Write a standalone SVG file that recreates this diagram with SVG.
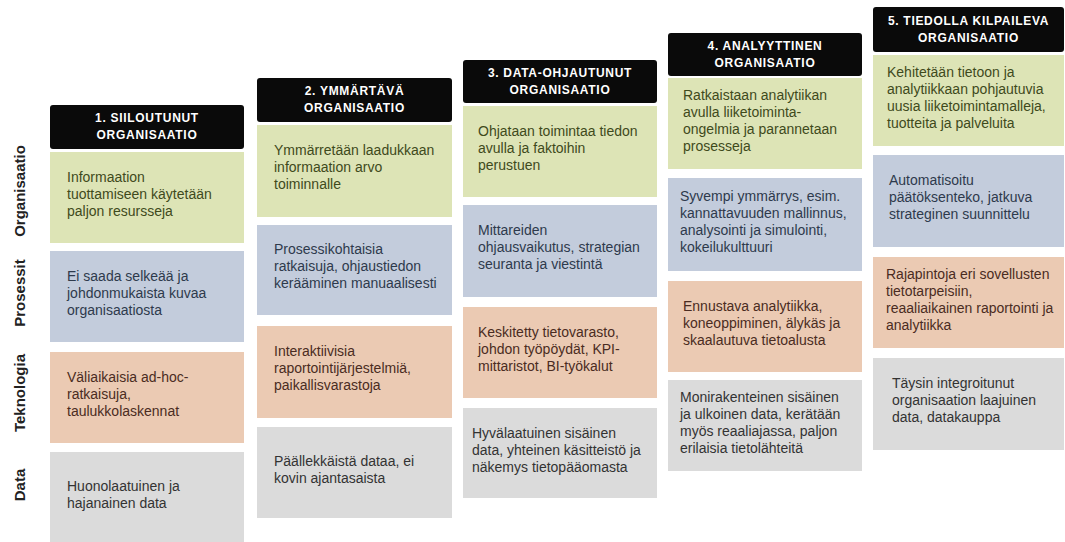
<svg xmlns="http://www.w3.org/2000/svg" width="1065" height="542" viewBox="0 0 1065 542">
<style>
.hd{fill:#0a0a0a}
.ht{fill:#ffffff;font-family:"Liberation Sans",Arial,sans-serif;font-weight:bold;font-size:12px;letter-spacing:0.7px;text-anchor:middle}
.g{fill:#dde4b6}.b{fill:#c3ccdc}.o{fill:#ebcab3}.y{fill:#dbdbdb}
.t{font-family:"Liberation Sans",Arial,sans-serif;font-size:14px}
.tg{fill:#3f4a1c}.tb{fill:#2e3a4c}.to{fill:#4a2c22}.ty{fill:#333333}
.rl{font-family:"Liberation Sans",Arial,sans-serif;font-weight:bold;font-size:15px;fill:#222;text-anchor:middle}
</style>
<rect width="1065" height="542" fill="#ffffff"/>
<g id="row-labels">
<text class="rl" transform="translate(25,191) rotate(-90)">Organisaatio</text>
<text class="rl" transform="translate(25,293) rotate(-90)">Prosessit</text>
<text class="rl" transform="translate(25,393) rotate(-90)">Teknologia</text>
<text class="rl" transform="translate(25,485) rotate(-90)">Data</text>
</g>
<g id="connectors"></g>
<g id="col1">
<rect class="hd" x="50" y="105" width="194" height="44" rx="3"/>
<text class="ht" x="147" y="122">1. SIILOUTUNUT</text><text class="ht" x="147" y="139">ORGANISAATIO</text>
<rect class="g" x="50" y="152" width="194" height="91"/>
<text class="t tg"><tspan x="67" y="182">Informaation</tspan><tspan x="67" y="199">tuottamiseen käytetään</tspan><tspan x="67" y="216">paljon resursseja</tspan></text>
<rect class="b" x="50" y="251" width="194" height="91"/>
<text class="t tb"><tspan x="67" y="281">Ei saada selkeää ja</tspan><tspan x="67" y="298">johdonmukaista kuvaa</tspan><tspan x="67" y="315">organisaatiosta</tspan></text>
<rect class="o" x="50" y="352" width="194" height="91"/>
<text class="t to"><tspan x="67" y="382">Väliaikaisia ad-hoc-</tspan><tspan x="67" y="399">ratkaisuja,</tspan><tspan x="67" y="416">taulukkolaskennat</tspan></text>
<rect class="y" x="50" y="452" width="194" height="90"/>
<text class="t ty"><tspan x="67" y="491">Huonolaatuinen ja</tspan><tspan x="67" y="508">hajanainen data</tspan></text>
</g>
<g id="col2">
<rect class="hd" x="257" y="78" width="195" height="44" rx="3"/>
<text class="ht" x="354.5" y="95">2. YMMÄRTÄVÄ</text><text class="ht" x="354.5" y="112">ORGANISAATIO</text>
<rect class="g" x="257" y="125" width="195" height="92"/>
<text class="t tg"><tspan x="274" y="155">Ymmärretään laadukkaan</tspan><tspan x="274" y="172">informaation arvo</tspan><tspan x="274" y="189">toiminnalle</tspan></text>
<rect class="b" x="257" y="225" width="195" height="90"/>
<text class="t tb"><tspan x="274" y="254">Prosessikohtaisia</tspan><tspan x="274" y="271">ratkaisuja, ohjaustiedon</tspan><tspan x="274" y="288">kerääminen manuaalisesti</tspan></text>
<rect class="o" x="257" y="326" width="195" height="92"/>
<text class="t to"><tspan x="274" y="356">Interaktiivisia</tspan><tspan x="274" y="373">raportointijärjestelmiä,</tspan><tspan x="274" y="390">paikallisvarastoja</tspan></text>
<rect class="y" x="257" y="427" width="195" height="91"/>
<text class="t ty"><tspan x="274" y="466">Päällekkäistä dataa, ei</tspan><tspan x="274" y="483">kovin ajantasaista</tspan></text>
</g>
<g id="col3">
<rect class="hd" x="463" y="60" width="194" height="43" rx="3"/>
<text class="ht" x="560" y="77">3. DATA-OHJAUTUNUT</text><text class="ht" x="560" y="94">ORGANISAATIO</text>
<rect class="g" x="463" y="106" width="194" height="91"/>
<text class="t tg"><tspan x="478" y="136">Ohjataan toimintaa tiedon</tspan><tspan x="478" y="153">avulla ja faktoihin</tspan><tspan x="478" y="170">perustuen</tspan></text>
<rect class="b" x="463" y="205" width="194" height="92"/>
<text class="t tb"><tspan x="478" y="235">Mittareiden</tspan><tspan x="478" y="252">ohjausvaikutus, strategian</tspan><tspan x="478" y="269">seuranta ja viestintä</tspan></text>
<rect class="o" x="463" y="307" width="194" height="91"/>
<text class="t to"><tspan x="478" y="337">Keskitetty tietovarasto,</tspan><tspan x="478" y="354">johdon työpöydät, KPI-</tspan><tspan x="478" y="371">mittaristot, BI-työkalut</tspan></text>
<rect class="y" x="463" y="408" width="194" height="90"/>
<text class="t ty"><tspan x="472" y="438">Hyvälaatuinen sisäinen</tspan><tspan x="472" y="455">data, yhteinen käsitteistö ja</tspan><tspan x="472" y="472">näkemys tietopääomasta</tspan></text>
</g>
<g id="col4">
<rect class="hd" x="668" y="33" width="194" height="43" rx="3"/>
<text class="ht" x="765" y="50">4. ANALYYTTINEN</text><text class="ht" x="765" y="67">ORGANISAATIO</text>
<rect class="g" x="668" y="78" width="194" height="91"/>
<text class="t tg"><tspan x="683" y="100">Ratkaistaan analytiikan</tspan><tspan x="683" y="117">avulla liiketoiminta-</tspan><tspan x="683" y="134">ongelmia ja parannetaan</tspan><tspan x="683" y="151">prosesseja</tspan></text>
<rect class="b" x="668" y="178" width="194" height="93"/>
<text class="t tb"><tspan x="680" y="201">Syvempi ymmärrys, esim.</tspan><tspan x="680" y="218">kannattavuuden mallinnus,</tspan><tspan x="680" y="235">analysointi ja simulointi,</tspan><tspan x="680" y="252">kokeilukulttuuri</tspan></text>
<rect class="o" x="668" y="281" width="194" height="91"/>
<text class="t to"><tspan x="683" y="311">Ennustava analytiikka,</tspan><tspan x="683" y="328">koneoppiminen, älykäs ja</tspan><tspan x="683" y="345">skaalautuva tietoalusta</tspan></text>
<rect class="y" x="668" y="380" width="194" height="91"/>
<text class="t ty"><tspan x="680" y="402">Monirakenteinen sisäinen</tspan><tspan x="680" y="419">ja ulkoinen data, kerätään</tspan><tspan x="680" y="436">myös reaaliajassa, paljon</tspan><tspan x="680" y="453">erilaisia tietolähteitä</tspan></text>
</g>
<g id="col5">
<rect class="hd" x="873" y="7" width="191" height="45" rx="3"/>
<text class="ht" x="968.5" y="25">5. TIEDOLLA KILPAILEVA</text><text class="ht" x="968.5" y="42">ORGANISAATIO</text>
<rect class="g" x="873" y="55" width="191" height="91"/>
<text class="t tg"><tspan x="887" y="77">Kehitetään tietoon ja</tspan><tspan x="887" y="94">analytiikkaan pohjautuvia</tspan><tspan x="887" y="111">uusia liiketoimintamalleja,</tspan><tspan x="887" y="128">tuotteita ja palveluita</tspan></text>
<rect class="b" x="873" y="155" width="191" height="92"/>
<text class="t tb"><tspan x="889" y="185">Automatisoitu</tspan><tspan x="889" y="202">päätöksenteko, jatkuva</tspan><tspan x="889" y="219">strateginen suunnittelu</tspan></text>
<rect class="o" x="873" y="257" width="191" height="91"/>
<text class="t to"><tspan x="886" y="279">Rajapintoja eri sovellusten</tspan><tspan x="886" y="296">tietotarpeisiin,</tspan><tspan x="886" y="313">reaaliaikainen raportointi ja</tspan><tspan x="886" y="330">analytiikka</tspan></text>
<rect class="y" x="873" y="358" width="191" height="92"/>
<text class="t ty"><tspan x="892" y="388">Täysin integroitunut</tspan><tspan x="892" y="405">organisaation laajuinen</tspan><tspan x="892" y="422">data, datakauppa</tspan></text>
</g>
</svg>
